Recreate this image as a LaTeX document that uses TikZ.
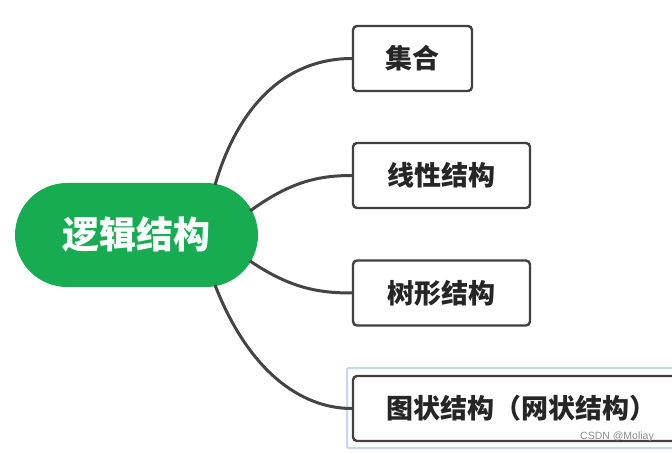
\documentclass[tikz,border=0pt]{standalone}
\usepackage{fontspec}
\newfontfamily\cjk{Noto Sans CJK SC}
\newfontfamily\wmfont{Liberation Sans}
\definecolor{pillgreen}{RGB}{24,172,82}
\definecolor{boxline}{RGB}{64,64,64}
\definecolor{conn}{RGB}{68,68,68}
\definecolor{selblue}{RGB}{196,216,242}
\begin{document}
\begin{tikzpicture}[x=1pt,y=-1pt,
  leafbox/.style={draw=boxline, line width=2.4pt, rounded corners=4pt, fill=white,
    inner sep=0pt, font=\cjk\bfseries\fontsize{27}{27}\selectfont, text=black!85},
  conn/.style={draw=conn, line width=3pt}]
\useasboundingbox (0,0) rectangle (672,454);
\clip (0,0) rectangle (672,454);
\fill[white] (0,0) rectangle (672,454);
% root
\node[fill=pillgreen, rounded corners=52pt, minimum width=243pt, minimum height=104pt,
  inner sep=0pt, text=white, font=\cjk\bfseries\fontsize{37}{37}\selectfont] (root) at (136.5,235) {逻辑结构};
% selection outline
\draw[selblue, line width=2pt, rounded corners=2pt] (347,368) rectangle (700,448);
% leaves
\node[leafbox, minimum width=119pt, minimum height=65pt] (b1) at (412.5,58.5) {集合};
\node[leafbox, minimum width=177pt, minimum height=65pt] (b2) at (441.5,175.5) {线性结构};
\node[leafbox, minimum width=177pt, minimum height=65pt] (b3) at (441.5,293) {树形结构};
\node[leafbox, minimum width=337pt, minimum height=65pt] (b4) at (521.5,408.5) {图状结构（网状结构）};
% connector start points
\coordinate (s1) at (215,185);
\coordinate (s2) at (250,211);
\coordinate (s3) at (250,261);
\coordinate (s4) at (215,285);
\draw[conn] (s1) .. controls (240,100) and (290,58.5) .. (b1.west);
\draw[conn] (s2) .. controls (290,182) and (318,175.5) .. (b2.west);
\draw[conn] (s3) .. controls (290,288) and (318,293) .. (b3.west);
\draw[conn] (s4) .. controls (248,370) and (300,408.5) .. (b4.west);
% watermark
\node[text=black!45, font=\wmfont\fontsize{10.5}{10.5}\selectfont, inner sep=0pt] (wm) at (617,437) {CSDN @Moliay};
\end{tikzpicture}
\end{document}
